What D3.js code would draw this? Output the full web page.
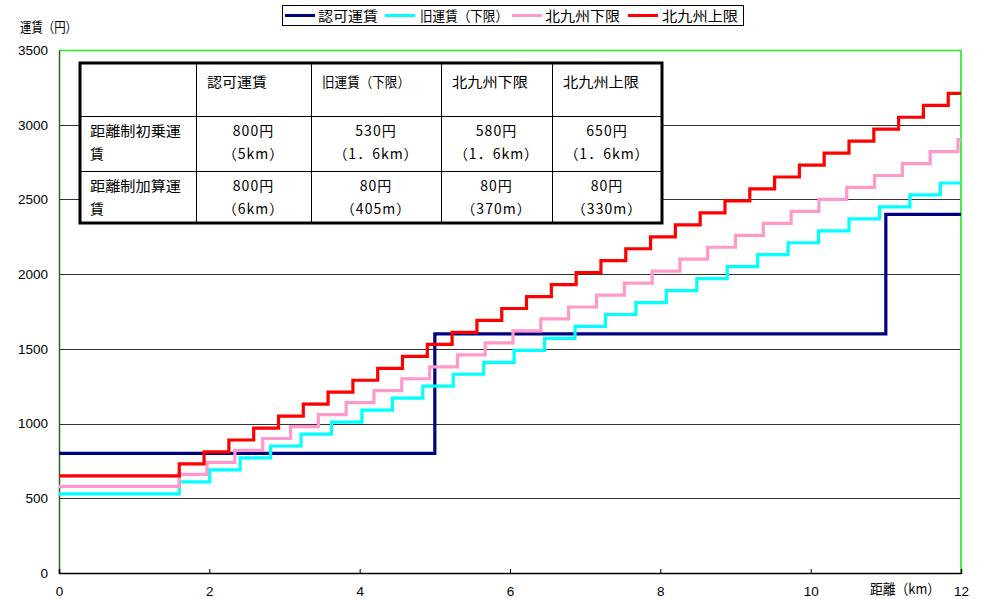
<!DOCTYPE html>
<html><head><meta charset="utf-8">
<script src="https://cdn.jsdelivr.net/npm/d3@7"></script>
<style>
html,body{margin:0;padding:0;background:#fff;}
svg{display:block;}
text{font-family:"Liberation Sans","Noto Sans CJK JP",sans-serif;fill:#000;}
.cjk{font-family:"Noto Sans CJK JP","Liberation Sans",sans-serif;}
</style></head><body>
<svg id="chart" width="986" height="599"></svg>
<script>
// ---------- data ----------
const seriesNames = ["認可運賃", "旧運賃（下限）", "北九州下限", "北九州上限"];
const seriesColors = ["#000080", "#00FFFF", "#FF99CC", "#FF0000"];

const distNinka = [0, 5, 11];
const fareNinka = [800, 1600, 2400];

const distKyu = [0, 1.6, 2.005, 2.41, 2.815, 3.22, 3.625, 4.03, 4.435, 4.84, 5.245, 5.65, 6.055, 6.46, 6.865, 7.27, 7.675, 8.08, 8.485, 8.89, 9.295, 9.7, 10.105, 10.51, 10.915, 11.32, 11.725];
const fareKyu = [530, 610, 690, 770, 850, 930, 1010, 1090, 1170, 1250, 1330, 1410, 1490, 1570, 1650, 1730, 1810, 1890, 1970, 2050, 2130, 2210, 2290, 2370, 2450, 2530, 2610];

const distKitaLow = [0, 1.6, 1.97, 2.34, 2.71, 3.08, 3.45, 3.82, 4.19, 4.56, 4.93, 5.30, 5.67, 6.04, 6.41, 6.78, 7.15, 7.52, 7.89, 8.26, 8.63, 9.00, 9.37, 9.74, 10.11, 10.48, 10.85, 11.22, 11.59, 11.96];
const fareKitaLow = [580, 660, 740, 820, 900, 980, 1060, 1140, 1220, 1300, 1380, 1460, 1540, 1620, 1700, 1780, 1860, 1940, 2020, 2100, 2180, 2260, 2340, 2420, 2500, 2580, 2660, 2740, 2820, 2900];

const distKitaHigh = [0, 1.6, 1.93, 2.26, 2.59, 2.92, 3.25, 3.58, 3.91, 4.24, 4.57, 4.90, 5.23, 5.56, 5.89, 6.22, 6.55, 6.88, 7.21, 7.54, 7.87, 8.20, 8.53, 8.86, 9.19, 9.52, 9.85, 10.18, 10.51, 10.84, 11.17, 11.50, 11.83];
const fareKitaHigh = [650, 730, 810, 890, 970, 1050, 1130, 1210, 1290, 1370, 1450, 1530, 1610, 1690, 1770, 1850, 1930, 2010, 2090, 2170, 2250, 2330, 2410, 2490, 2570, 2650, 2730, 2810, 2890, 2970, 3050, 3130, 3210];

const xTicks = [0, 2, 4, 6, 8, 10, 12];
const yTicks = [0, 500, 1000, 1500, 2000, 2500, 3000, 3500];
const xMax = 12, yMax = 3500;

const yTitle = "運賃（円）";
const xTitle = "距離（km）";

const tableHeaders = ["認可運賃", "旧運賃（下限）", "北九州下限", "北九州上限"];
const tableRowLabels = [["距離制初乗運", "賃"], ["距離制加算運", "賃"]];
const tableFirstFare = [["800円", "（5km）"], ["530円", "（1．6km）"], ["580円", "（1．6km）"], ["650円", "（1．6km）"]];
const tableAddFare = [["800円", "（6km）"], ["80円", "（405m）"], ["80円", "（370m）"], ["80円", "（330m）"]];

// ---------- layout ----------
const svg = d3.select("#chart");
const L = 59, R = 961, T = 50, B = 573;
const x = d3.scaleLinear().domain([0, xMax]).range([L, R]);
const y = d3.scaleLinear().domain([0, yMax]).range([B, T]);

// gridlines
svg.append("g").selectAll("line").data(yTicks.filter(v => v > 0 && v < yMax)).join("line")
  .attr("x1", L).attr("x2", R)
  .attr("y1", d => Math.round(y(d)) + 0.5).attr("y2", d => Math.round(y(d)) + 0.5)
  .attr("stroke", "#333").attr("stroke-width", 1);

// plot border (top/right green)
svg.append("line").attr("x1", L).attr("x2", R + 0.5).attr("y1", T + 0.5).attr("y2", T + 0.5)
  .attr("stroke", "#22ee22").attr("stroke-width", 1.5);
svg.append("line").attr("x1", R).attr("x2", R).attr("y1", T).attr("y2", B)
  .attr("stroke", "#44ee44").attr("stroke-width", 2);

// axes
const yAxis = d3.axisLeft(y).tickValues(yTicks).tickSize(0).tickPadding(11).tickFormat(d3.format("d"));
const gy = svg.append("g").attr("transform", `translate(${L},0)`).call(yAxis);
gy.select(".domain").attr("stroke", "#1d6b1d").attr("stroke-width", 1.5);
gy.selectAll("text").attr("font-size", 13.5).attr("font-family", "Liberation Sans, sans-serif");

const xAxis = d3.axisBottom(x).tickValues(xTicks).tickSize(-4).tickPadding(13).tickFormat(d3.format("d"));
const gx = svg.append("g").attr("transform", `translate(0,${B})`).call(xAxis);
gx.select(".domain").attr("stroke", "#000").attr("stroke-width", 1.5);
gx.selectAll(".tick line").attr("stroke", "#000");
gx.selectAll("text").attr("font-size", 13.5).attr("font-family", "Liberation Sans, sans-serif");

// titles
svg.append("text").attr("class", "cjk").attr("x", 20).attr("y", 32).attr("font-size", 14)
  .attr("textLength", 57).attr("lengthAdjust", "spacingAndGlyphs").text(yTitle);
svg.append("text").attr("class", "cjk").attr("x", 870).attr("y", 594).attr("font-size", 14)
  .attr("textLength", 70).attr("lengthAdjust", "spacingAndGlyphs").text(xTitle);

// series
const series = [
  {name: seriesNames[0], color: seriesColors[0], dist: distNinka, fare: fareNinka},
  {name: seriesNames[1], color: seriesColors[1], dist: distKyu, fare: fareKyu},
  {name: seriesNames[2], color: seriesColors[2], dist: distKitaLow, fare: fareKitaLow},
  {name: seriesNames[3], color: seriesColors[3], dist: distKitaHigh, fare: fareKitaHigh}
];
const line = d3.line().x(d => x(d[0])).y(d => y(d[1])).curve(d3.curveStepAfter);
series.forEach(s => {
  const pts = s.dist.map((d, i) => [d, s.fare[i]]);
  pts.push([xMax, s.fare[s.fare.length - 1]]);
  svg.append("path").datum(pts).attr("d", line)
    .attr("fill", "none").attr("stroke", s.color).attr("stroke-width", 3.2)
    .attr("stroke-linejoin", "miter");
});

// legend
const lg = svg.append("g");
lg.append("rect").attr("x", 282.5).attr("y", 5.5).attr("width", 461).attr("height", 20)
  .attr("fill", "#fff").attr("stroke", "#000").attr("stroke-width", 1);
const legendLineX = [285, 385, 512, 628];
const legendTextX = [318, 420, 545, 662];
const legendTextW = [60, 88, 75, 76];
series.forEach((s, i) => {
  lg.append("line").attr("x1", legendLineX[i]).attr("x2", legendLineX[i] + 30)
    .attr("y1", 15.5).attr("y2", 15.5).attr("stroke", s.color).attr("stroke-width", 3);
  lg.append("text").attr("class", "cjk").attr("x", legendTextX[i]).attr("y", 21)
    .attr("font-size", 14).attr("textLength", legendTextW[i]).attr("lengthAdjust", "spacingAndGlyphs")
    .text(s.name);
});

// table
const colX = [80, 196, 311, 441, 552, 662];
const rowY = [63, 116, 171, 223];
const tg = svg.append("g");
tg.append("rect").attr("x", colX[0]).attr("y", rowY[0])
  .attr("width", colX[5] - colX[0]).attr("height", rowY[3] - rowY[0]).attr("fill", "#fff");
colX.slice(1, 5).forEach(cx => tg.append("line").attr("x1", cx + 0.5).attr("x2", cx + 0.5)
  .attr("y1", rowY[0]).attr("y2", rowY[3]).attr("stroke", "#000").attr("stroke-width", 1));
rowY.slice(1, 3).forEach(ry => tg.append("line").attr("x1", colX[0]).attr("x2", colX[5])
  .attr("y1", ry + 0.5).attr("y2", ry + 0.5).attr("stroke", "#000").attr("stroke-width", 1));
tg.append("rect").attr("x", colX[0]).attr("y", rowY[0])
  .attr("width", colX[5] - colX[0]).attr("height", rowY[3] - rowY[0])
  .attr("fill", "none").attr("stroke", "#000").attr("stroke-width", 3);

const headerW = [60, 88, 76, 76];
tableHeaders.forEach((h, i) => {
  tg.append("text").attr("class", "cjk").attr("x", colX[i + 1] + 11).attr("y", 87)
    .attr("font-size", 14).attr("textLength", headerW[i]).attr("lengthAdjust", "spacingAndGlyphs").text(h);
});
const rowTop = [rowY[1], rowY[2]];
tableRowLabels.forEach((lines, r) => {
  lines.forEach((t, k) => {
    const tx = tg.append("text").attr("class", "cjk").attr("x", 90).attr("y", rowTop[r] + 20 + k * 22.5)
      .attr("font-size", 14).text(t);
    if (t.length === 6) tx.attr("textLength", 91).attr("lengthAdjust", "spacingAndGlyphs");
  });
});
[tableFirstFare, tableAddFare].forEach((rowData, r) => {
  rowData.forEach((lines, c) => {
    const cx = (colX[c + 1] + colX[c + 2]) / 2;
    lines.forEach((t, k) => {
      tg.append("text").attr("class", "cjk").attr("x", cx).attr("y", rowTop[r] + 20 + k * 22.5)
        .attr("text-anchor", "middle").attr("font-size", 14).attr("letter-spacing", 1).text(t);
    });
  });
});
</script>
</body></html>
